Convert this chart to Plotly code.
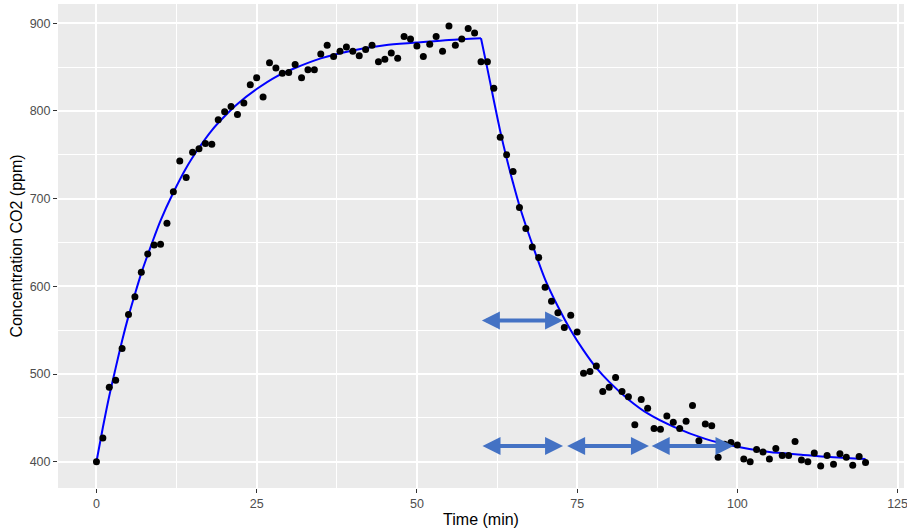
import plotly.graph_objects as go

# ---- measured points (one per minute, 0..120) ----
time_min = list(range(0, 121))
co2_ppm = [
    400, 427, 485, 493, 529, 568, 588, 616, 637, 647,
    648, 672, 708, 743, 724, 753, 757, 763, 762, 790,
    799, 805, 796, 809, 830, 838, 816, 855, 849, 843,
    844, 853, 838, 847, 847, 865, 875, 862, 868, 873,
    868, 863, 870, 875, 856, 859, 866, 860, 885, 882,
    874, 862, 876, 885, 868, 897, 875, 882, 894, 889,
    856, 856, 826, 770, 750, 731, 690, 666, 645, 633,
    599, 583, 570, 553, 567, 548, 501, 503, 509, 480,
    485, 496, 480, 474, 442, 471, 461, 438, 437, 452,
    445, 438, 446, 464, 424, 443, 441, 405, 420, 422,
    419, 403, 400, 414, 411, 403, 415, 407, 407, 423,
    402, 400, 410, 395, 407, 397, 409, 405, 396, 406,
    399,
]

# ---- fitted model curve: rise, then decay ----
rise_time = [0, 1, 2, 3, 4, 5, 6, 7, 8, 9, 10, 12, 14, 16, 18, 20, 22, 25, 28,
             31, 35, 40, 45, 50, 55, 60]
rise_ppm = [400, 439, 475, 507, 538, 566, 591, 615, 636, 656, 675, 707, 735,
            758, 778, 794, 808, 825, 839, 849, 860, 869, 875, 878, 881, 883]
decay_time = [60, 61, 62, 63, 64, 65, 66, 68, 70, 72, 74, 76, 78, 80, 83, 86,
              90, 95, 100, 105, 110, 115, 120]
decay_ppm = [883, 848, 812, 777, 746, 718, 692, 648, 608, 577, 550, 527, 507,
             491, 471, 455, 440, 426, 417, 411, 408, 405, 403]

# ---- half-life arrows: (start min, end min, ppm level) ----
arrow_x0 = [60, 73.2, 86.4, 59.9]
arrow_x1 = [72.8, 86.2, 99.4, 72.8]
arrow_y = [418, 418, 418, 561]

x_ticks = [0, 25, 50, 75, 100, 125]
y_ticks = [400, 500, 600, 700, 800, 900]

fig = go.Figure()

for tx, ty in ((rise_time, rise_ppm), (decay_time, decay_ppm)):
    fig.add_trace(go.Scatter(
        x=tx, y=ty, mode="lines", line_shape="spline",
        line=dict(color="#0000FF", width=2, smoothing=0.8),
        hoverinfo="skip", showlegend=False,
    ))
fig.add_trace(go.Scatter(
    x=time_min, y=co2_ppm, mode="markers",
    marker=dict(color="black", size=7), showlegend=False,
))

for x0, x1, yv in zip(arrow_x0, arrow_x1, arrow_y):
    fig.add_annotation(
        x=x1, y=yv, ax=x0, ay=yv, xref="x", yref="y", axref="x", ayref="y",
        text="", showarrow=True, arrowhead=2, startarrowhead=2,
        arrowside="end+start", arrowwidth=4, arrowsize=0.9,
        startarrowsize=0.9, arrowcolor="#4472C4",
    )

axis_common = dict(
    showline=False, zeroline=False, ticks="outside", ticklen=4,
    tickcolor="#333333", tickwidth=1.2, automargin=False,
    ticklabeloverflow="allow",
    tickfont=dict(family="Liberation Sans, Arial", size=12.5, color="#4D4D4D"),
    gridcolor="white", gridwidth=1.6,
)

fig.update_layout(
    width=907, height=529,
    margin=dict(l=58, r=3, t=4, b=41),
    paper_bgcolor="white", plot_bgcolor="#EBEBEB",
    font=dict(family="Liberation Sans, Arial", color="black"),
    xaxis=dict(
        range=[-6, 126], tickvals=x_ticks,
        title=dict(text="Time (min)", font=dict(size=16), standoff=3),
        minor=dict(tickvals=[12.5, 37.5, 62.5, 87.5, 112.5], showgrid=True,
                   gridcolor="white", gridwidth=0.8, ticks=""),
        **axis_common,
    ),
    yaxis=dict(
        range=[370, 922], tickvals=y_ticks,
        title=dict(text="Concentration CO2 (ppm)", font=dict(size=16), standoff=3),
        minor=dict(tickvals=[450, 550, 650, 750, 850], showgrid=True,
                   gridcolor="white", gridwidth=0.8, ticks=""),
        **axis_common,
    ),
)

fig.write_html(
    "out.html",
    config={"displayModeBar": False},
    post_script="document.body.style.margin='0';document.body.style.overflow='hidden';",
)
